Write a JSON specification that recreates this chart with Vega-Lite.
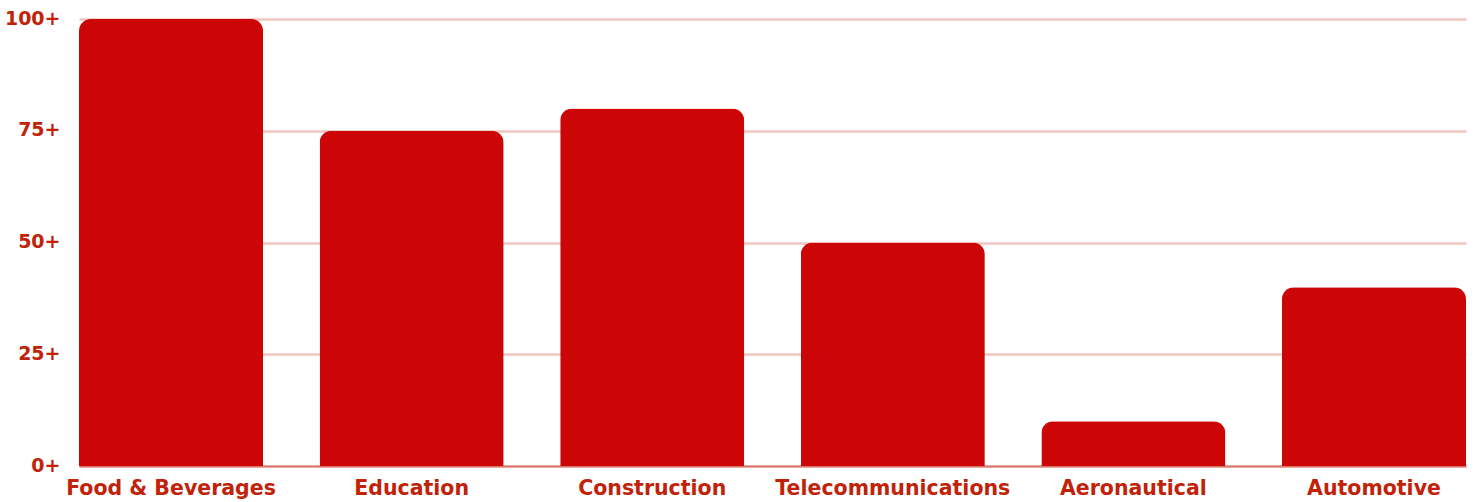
{
  "$schema": "https://vega.github.io/schema/vega-lite/v6.json",
  "width": 1387,
  "height": 447,
  "autosize": {"type": "none"},
  "padding": {"left": 79, "top": 19, "right": 8, "bottom": 36},
  "background": "white",
  "config": {"view": {"stroke": null}},
  "data": {
    "values": [
      {"industry": "Food & Beverages", "value": 100},
      {"industry": "Education", "value": 75},
      {"industry": "Construction", "value": 80},
      {"industry": "Telecommunications", "value": 50},
      {"industry": "Aeronautical", "value": 10},
      {"industry": "Automotive", "value": 40}
    ]
  },
  "mark": {"type": "bar", "color": "#cc0606", "cornerRadiusTopLeft": 12, "cornerRadiusTopRight": 12},
  "encoding": {
    "x": {
      "field": "industry", "type": "nominal", "sort": null,
      "scale": {"paddingInner": 0.235, "paddingOuter": 0},
      "axis": {
        "title": null, "labelAngle": 0, "ticks": false,
        "domainColor": "#d9776a", "domainWidth": 2,
        "labelFont": "DejaVu Sans", "labelFontWeight": 700, "labelFontSize": 20.5,
        "labelColor": "#c0230a", "labelPadding": 12, "labelOverlap": false, "labelLimit": 0
      }
    },
    "y": {
      "field": "value", "type": "quantitative",
      "scale": {"domain": [0, 100], "nice": false},
      "axis": {
        "title": null, "values": [0, 25, 50, 75, 100], "domain": false, "ticks": false,
        "labelExpr": "datum.label + '+'",
        "gridColor": "#efc6c0", "gridWidth": 2.5, "gridOpacity": 1,
        "labelFont": "DejaVu Sans", "labelFontWeight": 700, "labelFontSize": 19,
        "labelColor": "#c0230a", "labelPadding": 19, "labelBaseline": "alphabetic", "labelOffset": 5
      }
    }
  }
}
